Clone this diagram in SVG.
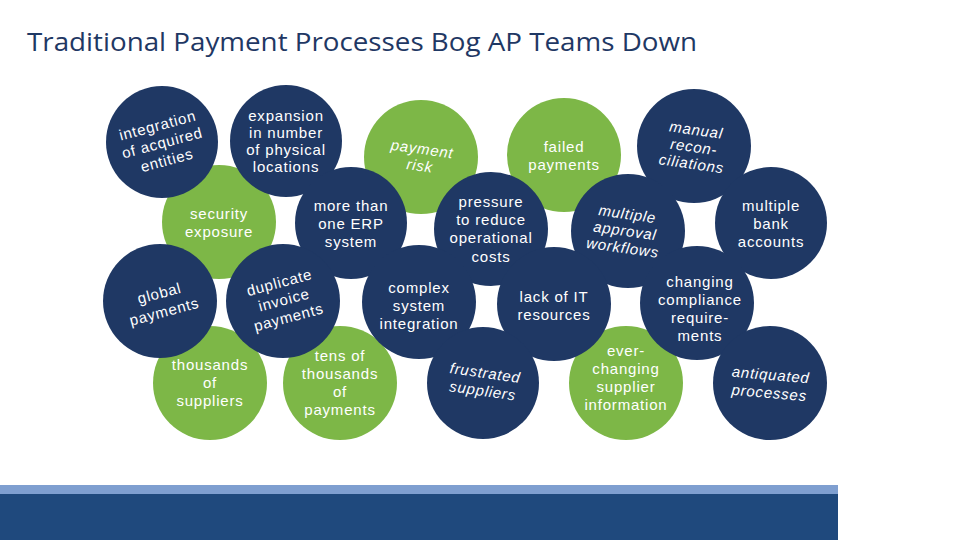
<svg xmlns="http://www.w3.org/2000/svg" width="960" height="540" viewBox="0 0 960 540">
<style>
.n{fill:#1f3864}
.g{fill:#7db747}
.t{fill:#ffffff;font-family:"Liberation Sans",Arial,sans-serif;font-size:15px;letter-spacing:0.8px;text-anchor:middle}
.i{font-style:italic}
.title{fill:#1f3864;font-family:"Open Sans","Liberation Sans",sans-serif;font-size:25px}
</style>
<rect width="960" height="540" fill="#ffffff"/>
<text class="title" x="27" y="51" textLength="670" lengthAdjust="spacingAndGlyphs">Traditional Payment Processes Bog AP Teams Down</text>
<rect x="0" y="485" width="838" height="9" fill="#7f9fd0"/>
<rect x="0" y="494" width="838" height="46" fill="#1f497d"/>
<g id="connectors"></g>
<!-- green nodes first -->
<g id="security-exposure"><circle class="g" cx="219" cy="222" r="57"/><text class="t" x="219" y="219">security<tspan x="219" dy="18">exposure</tspan></text></g>
<g id="payment-risk"><circle class="g" cx="421" cy="157" r="57"/><text class="t i" transform="rotate(8 421 157)" x="421" y="154">payment<tspan x="421" dy="17">risk</tspan></text></g>
<g id="failed-payments"><circle class="g" cx="564" cy="155" r="57"/><text class="t" x="564" y="152">failed<tspan x="564" dy="18">payments</tspan></text></g>
<g id="thousands-suppliers"><circle class="g" cx="210" cy="383" r="57"/><text class="t" x="210" y="370">thousands<tspan x="210" dy="18">of</tspan><tspan x="210" dy="18">suppliers</tspan></text></g>
<g id="tens-thousands-payments"><circle class="g" cx="340" cy="383" r="57"/><text class="t" x="340" y="361">tens of<tspan x="340" dy="18">thousands</tspan><tspan x="340" dy="18">of</tspan><tspan x="340" dy="18">payments</tspan></text></g>
<g id="ever-changing-supplier"><circle class="g" cx="626" cy="383" r="57"/><text class="t" x="626" y="356">ever-<tspan x="626" dy="18">changing</tspan><tspan x="626" dy="18">supplier</tspan><tspan x="626" dy="18">information</tspan></text></g>
<!-- navy nodes -->
<g id="integration-acquired"><circle class="n" cx="162" cy="142" r="56"/><text class="t" transform="rotate(-15 162 142)" x="162" y="130">integration<tspan x="162" dy="18">of acquired</tspan><tspan x="162" dy="18">entities</tspan></text></g>
<g id="expansion-locations"><circle class="n" cx="286" cy="141" r="56"/><text class="t" x="286" y="121">expansion<tspan x="286" dy="17">in number</tspan><tspan x="286" dy="17">of physical</tspan><tspan x="286" dy="17">locations</tspan></text></g>
<g id="more-than-one-erp"><circle class="n" cx="351" cy="223" r="56"/><text class="t" x="351" y="211">more than<tspan x="351" dy="18">one ERP</tspan><tspan x="351" dy="18">system</tspan></text></g>
<g id="pressure-costs"><circle class="n" cx="491" cy="229" r="57"/><text class="t" x="491" y="207">pressure<tspan x="491" dy="18">to reduce</tspan><tspan x="491" dy="18">operational</tspan><tspan x="491" dy="19">costs</tspan></text></g>
<g id="manual-reconciliations"><circle class="n" cx="694" cy="146" r="57"/><text class="t i" transform="rotate(8 694 146)" x="694" y="135">manual<tspan x="694" dy="17">recon-</tspan><tspan x="694" dy="17">ciliations</tspan></text></g>
<g id="multiple-bank-accounts"><circle class="n" cx="771" cy="223" r="56"/><text class="t" x="771" y="211">multiple<tspan x="771" dy="18">bank</tspan><tspan x="771" dy="18">accounts</tspan></text></g>
<g id="multiple-approval-workflows"><circle class="n" cx="628" cy="231" r="57"/><text class="t i" transform="rotate(8 625 231)" x="625" y="219">multiple<tspan x="625" dy="17">approval</tspan><tspan x="625" dy="17">workflows</tspan></text></g>
<g id="global-payments"><circle class="n" cx="160" cy="301" r="57"/><text class="t" transform="rotate(-15 162 303)" x="162" y="298">global<tspan x="162" dy="19">payments</tspan></text></g>
<g id="duplicate-invoice-payments"><circle class="n" cx="283" cy="301" r="57"/><text class="t" transform="rotate(-15 284 300)" x="284" y="287">duplicate<tspan x="284" dy="18">invoice</tspan><tspan x="284" dy="18">payments</tspan></text></g>
<g id="complex-integration"><circle class="n" cx="419" cy="302" r="57"/><text class="t" x="419" y="293">complex<tspan x="419" dy="18">system</tspan><tspan x="419" dy="18">integration</tspan></text></g>
<g id="lack-it-resources"><circle class="n" cx="554" cy="304" r="57"/><text class="t" x="554" y="302">lack of IT<tspan x="554" dy="18">resources</tspan></text></g>
<g id="changing-compliance"><circle class="n" cx="697" cy="303" r="57"/><text class="t" x="700" y="287">changing<tspan x="700" dy="18">compliance</tspan><tspan x="700" dy="18">require-</tspan><tspan x="700" dy="18">ments</tspan></text></g>
<g id="frustrated-suppliers"><circle class="n" cx="483" cy="383" r="56"/><text class="t i" transform="rotate(8 484 382)" x="484" y="378">frustrated<tspan x="484" dy="18">suppliers</tspan></text></g>
<g id="antiquated-processes"><circle class="n" cx="770" cy="383" r="57"/><text class="t i" transform="rotate(5 770 384)" x="770" y="380">antiquated<tspan x="770" dy="18">processes</tspan></text></g>
</svg>
